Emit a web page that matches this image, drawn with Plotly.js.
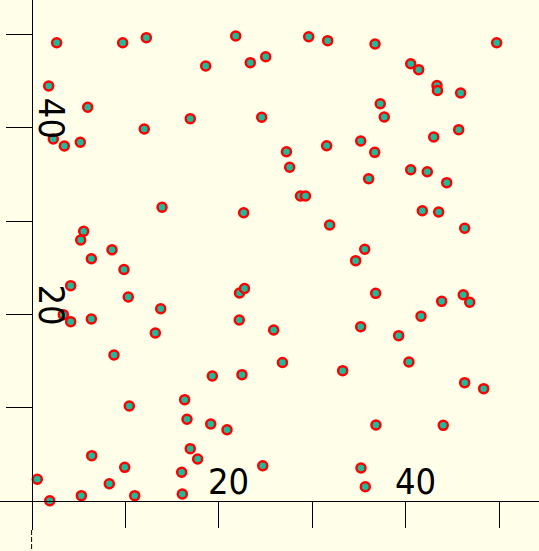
<!DOCTYPE html>
<html>
<head>
<meta charset="utf-8">
<script src="https://cdn.plot.ly/plotly-3.0.1.min.js"></script>
<style>html,body{margin:0;padding:0;background:#ffffe9;}#chart{width:539px;height:551px;}</style>
</head>
<body>
<div id="chart"></div>
<script>
// Scatter data
const xValues = [
  2.68, 9.74, 12.27, 21.83, 18.62, 23.39, 25.04, 1.83, 6.00, 16.97, 24.61, 12.05, 2.32, 3.50, 5.21, 13.95, 22.68, 5.57, 5.25, 8.60, 6.39, 9.88,
  29.64, 31.67, 36.73, 49.74, 40.55, 41.40, 43.36, 43.41, 45.89, 37.29, 37.72, 45.68, 43.01, 27.26, 31.56, 35.20, 36.70, 27.60, 36.05, 40.55, 42.32, 44.40, 28.76, 29.29, 31.88, 41.79, 43.54, 46.32, 35.63, 34.66,
  4.18, 22.24, 22.77, 10.34, 13.81, 3.39, 4.18, 6.39, 22.21, 13.23, 25.89, 8.81, 26.83, 19.33, 22.50, 16.37, 10.45, 16.62, 19.16, 20.90, 16.97, 17.76, 6.43, 9.96, 16.05, 24.72, 0.61, 8.31, 5.32, 11.03, 16.12, 1.94,
  36.80, 43.86, 46.17, 46.86, 41.65, 35.20, 39.26, 33.27, 40.36, 46.32, 48.35, 36.83, 44.03, 35.23, 35.69
];
const yValues = [
  49.12, 49.12, 49.66, 49.84, 46.62, 46.98, 47.62, 44.48, 42.20, 40.98, 41.13, 39.87, 38.80, 38.05, 38.45, 31.48, 30.90, 28.91, 27.97, 26.93, 25.97, 24.81,
  49.76, 49.34, 48.98, 49.12, 46.87, 46.23, 44.53, 44.00, 43.73, 42.58, 41.16, 39.80, 39.01, 37.44, 38.08, 38.59, 37.37, 35.77, 34.54, 35.51, 35.29, 34.12, 32.69, 32.69, 29.58, 31.11, 30.98, 29.23, 26.98, 25.76,
  23.08, 22.29, 22.78, 21.86, 20.61, 19.97, 19.22, 19.51, 19.40, 18.01, 18.33, 15.65, 14.84, 13.40, 13.54, 10.86, 10.18, 8.76, 8.25, 7.64, 5.61, 4.50, 4.86, 3.61, 3.08, 3.78, 2.33, 1.85, 0.57, 0.57, 0.75, 0.03,
  22.26, 21.40, 22.11, 21.30, 19.80, 18.68, 17.72, 13.97, 14.90, 12.68, 12.04, 8.15, 8.11, 3.54, 1.53
];
const tickValues = [0, 10, 20, 30, 40, 50];
const xTickText = ['', '', '20', '', '40', ''];
const yTickText = ['', '', '20', '', '40', ''];

const xRange = [-3.38, 54.27];
const yRange = [-3.11, 53.70];
const xPos = (0 - xRange[0]) / (xRange[1] - xRange[0]);
const yPos = (0 - yRange[0]) / (yRange[1] - yRange[0]);

const labelFont = {family: 'Liberation Sans Narrow, DejaVu Sans Condensed, sans-serif', size: 36, color: '#000000'};

const trace = {
  type: 'scatter',
  mode: 'markers',
  x: xValues,
  y: yValues,
  marker: {size: 9, color: '#19bd9c', line: {color: '#ff0000', width: 2.5}},
  hoverinfo: 'none',
  cliponaxis: false
};

const layout = {
  width: 539,
  height: 551,
  margin: {l: 0, r: 0, t: 0, b: 21, pad: 0},
  paper_bgcolor: '#ffffe9',
  plot_bgcolor: '#ffffe9',
  showlegend: false,
  hovermode: false,
  xaxis: {
    range: xRange,
    anchor: 'free',
    position: yPos,
    showgrid: false,
    zeroline: false,
    showline: true,
    linecolor: '#000000',
    linewidth: 1,
    ticks: 'outside',
    ticklen: 26,
    tickwidth: 1,
    tickcolor: '#000000',
    tickmode: 'array',
    tickvals: tickValues,
    ticktext: xTickText,
    ticklabelposition: 'inside',
    ticklabelshift: 10,
    ticklabelstandoff: 4,
    tickfont: labelFont
  },
  yaxis: {
    range: yRange,
    anchor: 'free',
    position: xPos,
    showgrid: false,
    zeroline: false,
    showline: true,
    linecolor: '#000000',
    linewidth: 1,
    ticks: 'outside',
    ticklen: 26,
    tickwidth: 1,
    tickcolor: '#000000',
    tickmode: 'array',
    tickvals: tickValues,
    ticktext: yTickText,
    ticklabelposition: 'inside',
    tickangle: 90,
    ticklabelshift: -4,
    ticklabelstandoff: 3,
    tickfont: labelFont
  },
  shapes: [{
    type: 'line', xref: 'paper', yref: 'paper',
    x0: xPos, x1: xPos, y0: 0, y1: -21 / 530,
    line: {color: '#000000', width: 1, dash: '5px,2px'}
  }]
};

Plotly.newPlot('chart', [trace], layout, {displayModeBar: false, staticPlot: true});
</script>
</body>
</html>
